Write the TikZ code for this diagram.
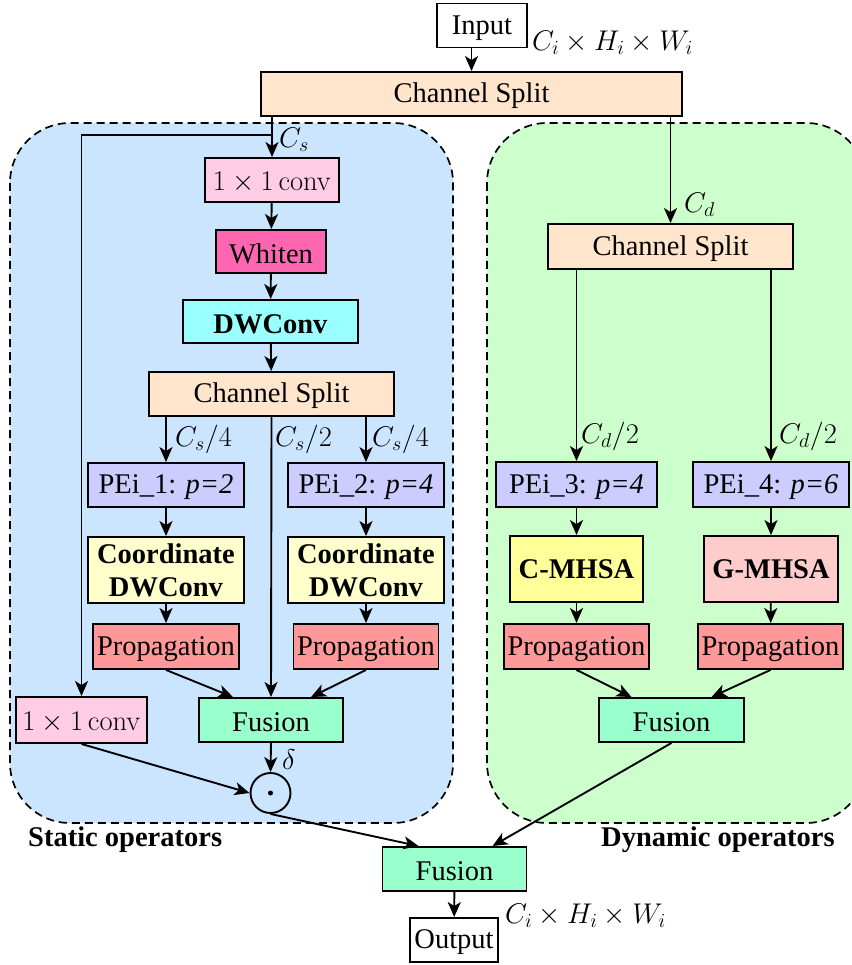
\RequirePackage{fix-cm}
\documentclass[tikz,border=0pt]{standalone}
\usepackage[no-math]{fontspec}
\setmainfont{Liberation Serif}
\usetikzlibrary{arrows.meta}

\definecolor{staticbg}{RGB}{204,229,255}
\definecolor{dynbg}{RGB}{204,255,204}
\definecolor{convpink}{RGB}{255,204,230}
\definecolor{whitenpink}{RGB}{255,102,178}
\definecolor{dwcyan}{RGB}{153,255,255}
\definecolor{splitpeach}{RGB}{255,229,204}
\definecolor{peiblue}{RGB}{204,204,255}
\definecolor{coordyellow}{RGB}{255,255,204}
\definecolor{propred}{RGB}{255,153,153}
\definecolor{fusiongreen}{RGB}{153,255,204}
\definecolor{cyellow}{RGB}{255,255,153}
\definecolor{gpink}{RGB}{255,204,204}

\begin{document}
\begin{tikzpicture}[x=1pt,y=-1pt,
  font=\fontsize{28.5pt}{33pt}\selectfont,
  boxbase/.style={draw, line width=1.9pt, inner sep=0pt, align=center},
  box/.style={boxbase, minimum height=44pt, text height=23.5pt},
  tallbox/.style={boxbase, minimum height=66pt},
  arr/.style={line width=1.9pt, -{Stealth[length=15pt,width=13pt,inset=4pt]}},
  region/.style={line width=1.7pt, dash pattern=on 8pt off 5pt, rounded corners=60pt},
  lbl/.style={inner sep=0pt, anchor=west},
  grouplbl/.style={inner sep=0pt, anchor=base west, font=\fontsize{28.5pt}{33pt}\selectfont\bfseries}]

\useasboundingbox (0,0) rectangle (851,965);

% operator groups
\draw[region, fill=staticbg] (10,123) rectangle (453,823);
\draw[region, fill=dynbg] (487,123) rectangle (866,823);

% input and first split
\node[box, minimum width=90pt] (input) at (482,25.5) {Input};
\node[lbl] (inlbl) at (532,43) {$C_i\times H_i\times W_i$};
\node[box, fill=splitpeach, minimum width=421pt] (splitA) at (471.5,94) {Channel Split};

% static branch
\node[box, fill=convpink, minimum width=134pt] (conv1) at (272,180) {$1\times 1\,\mathrm{conv}$};
\node[box, fill=whitenpink, minimum width=110pt, minimum height=43pt] (whiten) at (271,251.5) {Whiten};
\node[box, fill=dwcyan, minimum width=175pt, minimum height=43pt] (dwconv) at (270.5,321.5) {\bfseries DWConv};
\node[box, fill=splitpeach, minimum width=245pt] (splitB) at (271.5,394) {Channel Split};
\node[box, fill=peiblue, minimum width=156pt] (pei1) at (166,485) {PEi\_1: \textit{p=2}};
\node[box, fill=peiblue, minimum width=156pt] (pei2) at (366,485) {PEi\_2: \textit{p=4}};
\node[tallbox, fill=coordyellow, minimum width=156pt] (coord1) at (166,570) {\bfseries Coordinate\\\bfseries DWConv};
\node[tallbox, fill=coordyellow, minimum width=156pt] (coord2) at (366,570) {\bfseries Coordinate\\\bfseries DWConv};
\node[box, fill=propred, minimum width=146pt, minimum height=45pt] (prop1) at (166,646.5) {Propagation};
\node[box, fill=propred, minimum width=145pt, minimum height=45pt] (prop2) at (366,646.5) {Propagation};
\node[box, fill=convpink, minimum width=131pt, minimum height=46pt] (convL) at (81.5,720) {$1\times 1\,\mathrm{conv}$};
\node[box, fill=fusiongreen, minimum width=144pt] (fusionS) at (271,720) {Fusion};
\node[circle, draw, line width=1.9pt, minimum size=40pt, inner sep=0pt] (dot) at (270.5,793) {};
\fill (dot.center) circle (2.5pt);

% dynamic branch
\node[box, fill=splitpeach, minimum width=245pt, minimum height=45pt] (splitC) at (670.5,246.5) {Channel Split};
\node[box, fill=peiblue, minimum width=161pt, minimum height=45pt] (pei3) at (576.5,484.5) {PEi\_3: \textit{p=4}};
\node[box, fill=peiblue, minimum width=156pt, minimum height=45pt] (pei4) at (771,484.5) {PEi\_4: \textit{p=6}};
\node[tallbox, fill=cyellow, minimum width=133pt] (cmhsa) at (576.5,569) {\bfseries C-MHSA};
\node[tallbox, fill=gpink, minimum width=134pt] (gmhsa) at (771,569) {\bfseries G-MHSA};
\node[box, fill=propred, minimum width=145pt, minimum height=45pt] (prop3) at (576.5,646.5) {Propagation};
\node[box, fill=propred, minimum width=145pt, minimum height=45pt] (prop4) at (770.5,646.5) {Propagation};
\node[box, fill=fusiongreen, minimum width=145pt] (fusionD) at (671.5,720) {Fusion};

% output
\node[box, fill=fusiongreen, minimum width=144pt] (fusionB) at (454.5,869) {Fusion};
\node[box, minimum width=88pt] (output) at (454,940) {Output};
\node[lbl] (outlbl) at (505,916) {$C_i\times H_i\times W_i$};

% group names
\node[grouplbl] (staticlbl) at (28,846) {Static operators};
\node[grouplbl] (dynlbl) at (601,846) {Dynamic operators};

% channel labels
\node[lbl] (cs) at (279,140) {$C_s$};
\node[lbl] (cd) at (684,205) {$C_d$};
\node[lbl] (cs4a) at (175,439) {$C_s/4$};
\node[lbl] (cs2) at (275,439) {$C_s/2$};
\node[lbl] (cs4b) at (372,439) {$C_s/4$};
\node[lbl] (cd2a) at (581,436) {$C_d/2$};
\node[lbl] (cd2b) at (779,436) {$C_d/2$};
\node[lbl] (delta) at (282,760) {$\delta$};

% connectors
\draw[arr] (input.south -| splitA.north) -- (splitA.north);
\coordinate (brS) at (272,135);
\draw[arr] (conv1.north |- splitA.south) -- (conv1.north);
\draw[arr] (brS) -| (convL.north);
\draw[arr] (conv1) -- (whiten);
\draw[arr] (whiten) -- (dwconv);
\draw[arr] (dwconv) -- (splitB);
\draw[arr] (splitB.south -| pei1.north) -- (pei1.north);
\draw[arr] (splitB.south -| pei2.north) -- (pei2.north);
\draw[arr] (splitB.south) -- (fusionS.north);
\draw[arr] (pei1) -- (coord1);
\draw[arr] (pei2) -- (coord2);
\draw[arr] (coord1) -- (prop1);
\draw[arr] (coord2) -- (prop2);
\draw[arr] (prop1.south) -- ([xshift=-38pt]fusionS.north);
\draw[arr] (prop2.south) -- ([xshift=40pt]fusionS.north);
\draw[arr] (fusionS.south) -- (dot.north);
\draw[arr] (convL.south) -- (dot.west);
\draw[arr] (dot.south) -- ([xshift=37pt]fusionB.north west);

\draw[arr] (splitC.north |- splitA.south) -- (splitC.north);
\draw[arr] (splitC.south -| pei3.north) -- (pei3.north);
\draw[arr] (splitC.south -| pei4.north) -- (pei4.north);
\draw[arr] (pei3) -- (cmhsa);
\draw[arr] (pei4) -- (gmhsa);
\draw[arr] (cmhsa) -- (prop3);
\draw[arr] (gmhsa) -- (prop4);
\draw[arr] (prop3.south) -- ([xshift=-40pt]fusionD.north);
\draw[arr] (prop4.south) -- ([xshift=40pt]fusionD.north);
\draw[arr] (fusionD.south) -- ([xshift=-35pt]fusionB.north east);
\draw[arr] (fusionB) -- (output);

\end{tikzpicture}
\end{document}
